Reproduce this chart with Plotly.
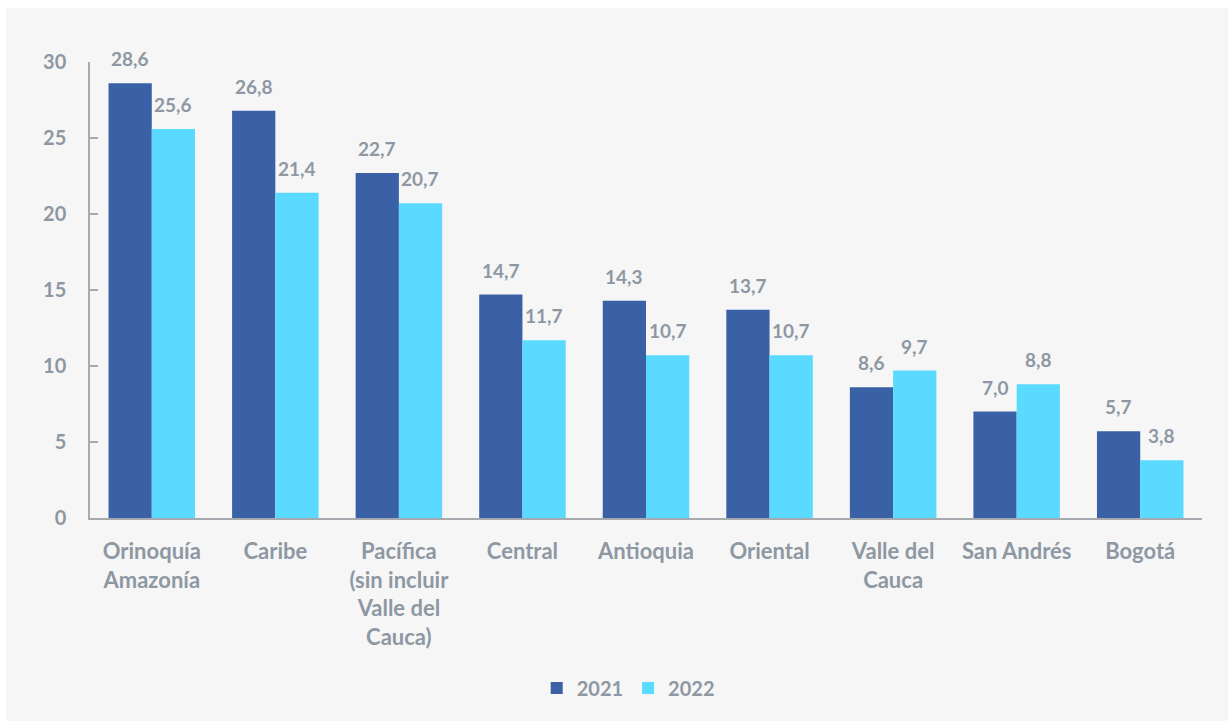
import plotly.graph_objects as go

categories = ["Orinoquía<br>Amazonía", "Caribe", "Pacífica<br>(sin incluir<br>Valle del<br>Cauca)",
              "Central", "Antioquia", "Oriental", "Valle del<br>Cauca", "San Andrés", "Bogotá"]
values_2021 = [28.6, 26.8, 22.7, 14.7, 14.3, 13.7, 8.6, 7.0, 5.7]
values_2022 = [25.6, 21.4, 20.7, 11.7, 10.7, 10.7, 9.7, 8.8, 3.8]
y_ticks = [0, 5, 10, 15, 20, 25, 30]

C_DARK = "#3a60a6"
C_LIGHT = "#5adafe"
GRAY = "#8e98a3"
FONT = "Lato"

fig = go.Figure()
fig.add_trace(go.Bar(name="2021", x=categories, y=values_2021, marker_color=C_DARK,
                     marker_line_width=0))
fig.add_trace(go.Bar(name="2022", x=categories, y=values_2022, marker_color=C_LIGHT,
                     marker_line_width=0))

def fmt(v):
    return f"{v:.1f}".replace(".", ",")

annotations = []
for cat, v in zip(categories, values_2021):
    annotations.append(dict(x=cat, y=v, text=fmt(v), showarrow=False, xref="x", yref="y",
                            xshift=-21.6, yanchor="bottom", yshift=11,
                            font=dict(family=FONT, size=19, color=GRAY, weight="bold")))
for cat, v in zip(categories, values_2022):
    annotations.append(dict(x=cat, y=v, text=fmt(v), showarrow=False, xref="x", yref="y",
                            xshift=21.6, yanchor="bottom", yshift=11,
                            font=dict(family=FONT, size=19, color=GRAY, weight="bold")))

fig.update_layout(
    width=1228, height=721,
    margin=dict(l=90, r=26, t=62, b=203, autoexpand=False),
    paper_bgcolor="white",
    plot_bgcolor="rgba(0,0,0,0)",
    barmode="group", bargap=0.3, bargroupgap=0,
    font=dict(family=FONT, color=GRAY, size=19, weight="bold"),
    showlegend=True,
    legend=dict(orientation="h", x=0.484, xanchor="center", y=-0.373, yanchor="middle",
                font=dict(family=FONT, size=20, color=GRAY, weight="bold"),
                itemwidth=30, traceorder="normal", bgcolor="rgba(0,0,0,0)"),
    annotations=annotations,
    shapes=[dict(type="rect", xref="paper", yref="paper", layer="below",
                 x0=(6 - 90) / 1112, x1=(1240 - 90) / 1112,
                 y0=(518 - 730) / 456, y1=(518 - 8) / 456,
                 fillcolor="#f6f6f6", line_width=0)],
)
fig.update_yaxes(range=[0, 30], tickvals=y_ticks, showgrid=False, zeroline=False,
                 showline=True, linecolor="#a6a9ad", linewidth=1.5,
                 ticks="inside", ticklen=8, tickcolor="#a6a9ad", tickwidth=1.5,
                 ticklabelstandoff=18,
                 tickfont=dict(family=FONT, size=20, color=GRAY, weight="bold"))
fig.update_xaxes(showgrid=False, showline=True, linecolor="#a6a9ad", linewidth=1.5,
                 ticks="", ticklabelstandoff=13,
                 tickfont=dict(family=FONT, size=22, color=GRAY, weight="bold"))

fig.write_html("out.html")
